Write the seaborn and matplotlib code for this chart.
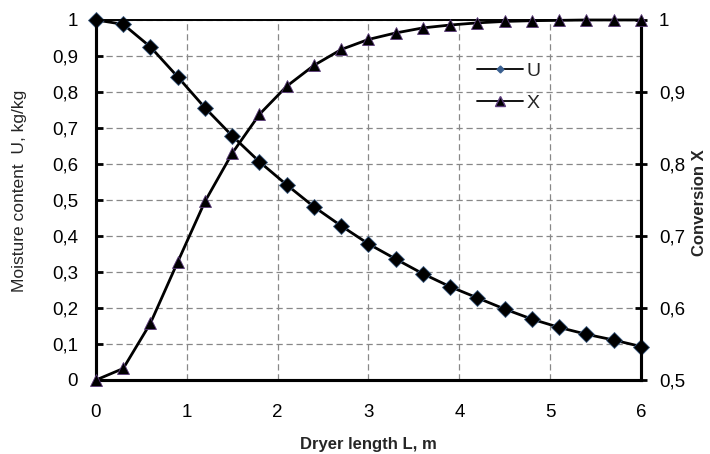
import numpy as np
import pandas as pd
import matplotlib
matplotlib.use("Agg")
import matplotlib.pyplot as plt
import seaborn as sns
from matplotlib.ticker import FuncFormatter, MultipleLocator
from matplotlib.lines import Line2D

# data
length_m = [0.0, 0.3, 0.6, 0.9, 1.2, 1.5, 1.8, 2.1, 2.4, 2.7, 3.0,
            3.3, 3.6, 3.9, 4.2, 4.5, 4.8, 5.1, 5.4, 5.7, 6.0]
moisture_u = [1.0, 0.988, 0.925, 0.842, 0.756, 0.678, 0.606, 0.542, 0.481, 0.428, 0.378,
              0.336, 0.295, 0.259, 0.228, 0.197, 0.169, 0.146, 0.127, 0.111, 0.093]
conversion_x = [0.5, 0.516, 0.579, 0.664, 0.748, 0.815, 0.869, 0.908, 0.937, 0.959, 0.973,
                0.982, 0.989, 0.993, 0.996, 0.998, 0.999, 0.9995, 1.0, 1.0, 1.0]

df = pd.DataFrame({"L": length_m, "U": moisture_u, "X": conversion_x})

sns.set_style("white")
plt.rcParams["font.family"] = ["Liberation Sans", "DejaVu Sans"]

fig = plt.figure(figsize=(7.1, 4.54), dpi=100)
ax = fig.add_axes([0.1352, 0.163, 0.7676, 0.793])
ax2 = ax.twinx()

sns.lineplot(data=df, x="L", y="U", ax=ax, color="black", lw=2, marker="D",
             markersize=8.5, markerfacecolor="black", markeredgecolor="#3a5a80",
             markeredgewidth=0.6, zorder=3, clip_on=False)
sns.lineplot(data=df, x="L", y="X", ax=ax2, color="black", lw=2, marker="^",
             markersize=8.5, markerfacecolor="black", markeredgecolor="#5a3a7a",
             markeredgewidth=0.6, zorder=3, clip_on=False)

ax.set_xlim(0, 6)
ax.set_ylim(0, 1)
ax2.set_ylim(0.5, 1)
ax.xaxis.set_major_locator(MultipleLocator(1))
ax.yaxis.set_major_locator(MultipleLocator(0.1))
ax2.yaxis.set_major_locator(MultipleLocator(0.1))

def comma(v, pos):
    s = f"{v:.1f}".replace(".", ",")
    if s.endswith(",0"):
        s = s[:-2]
    return s

ax.yaxis.set_major_formatter(FuncFormatter(comma))
ax2.yaxis.set_major_formatter(FuncFormatter(comma))

ax.grid(True, color="#888888", ls=(0, (5, 3)), lw=0.9)
ax.set_axisbelow(True)

for a in (ax, ax2):
    for side in ("left", "bottom", "right"):
        a.spines[side].set_linewidth(2.2)
        a.spines[side].set_color("black")
    a.spines["top"].set_linewidth(1.2)
    a.spines["top"].set_color("black")

ax.tick_params(axis="both", direction="in", length=5, width=2, labelsize=13.5,
               colors="black")
ax.tick_params(axis="y", pad=13)
ax.tick_params(axis="x", pad=17)
ax2.tick_params(axis="y", direction="inout", length=8, width=2, labelsize=13.5,
                colors="black", pad=9)

ax.set_xlabel("Dryer length L, m", fontsize=12, fontweight="bold")
ax.set_ylabel("Moisture content  U, kg/kg", fontsize=12.5)
ax2.set_ylabel("Conversion X", fontsize=12, fontweight="bold")
ax.xaxis.set_label_coords(0.5, -0.158)
ax.yaxis.set_label_coords(-0.126, 0.525)
ax2.yaxis.set_label_coords(1.093, 0.494)

handles = [
    Line2D([], [], color="black", lw=1.3, marker="D", markersize=3.5,
           markerfacecolor="#3a6090", markeredgecolor="#3a6090"),
    Line2D([], [], color="black", lw=1.3, marker="^", markersize=7,
           markerfacecolor="black", markeredgecolor="#5a3a7a"),
]
ax2.legend(handles, ["U", "X"], loc="upper left", bbox_to_anchor=(0.684, 0.905),
           frameon=False, fontsize=14, handlelength=2.4, handletextpad=0.15,
           labelspacing=0.75, borderaxespad=0)

fig.savefig("out.png", dpi=100)
